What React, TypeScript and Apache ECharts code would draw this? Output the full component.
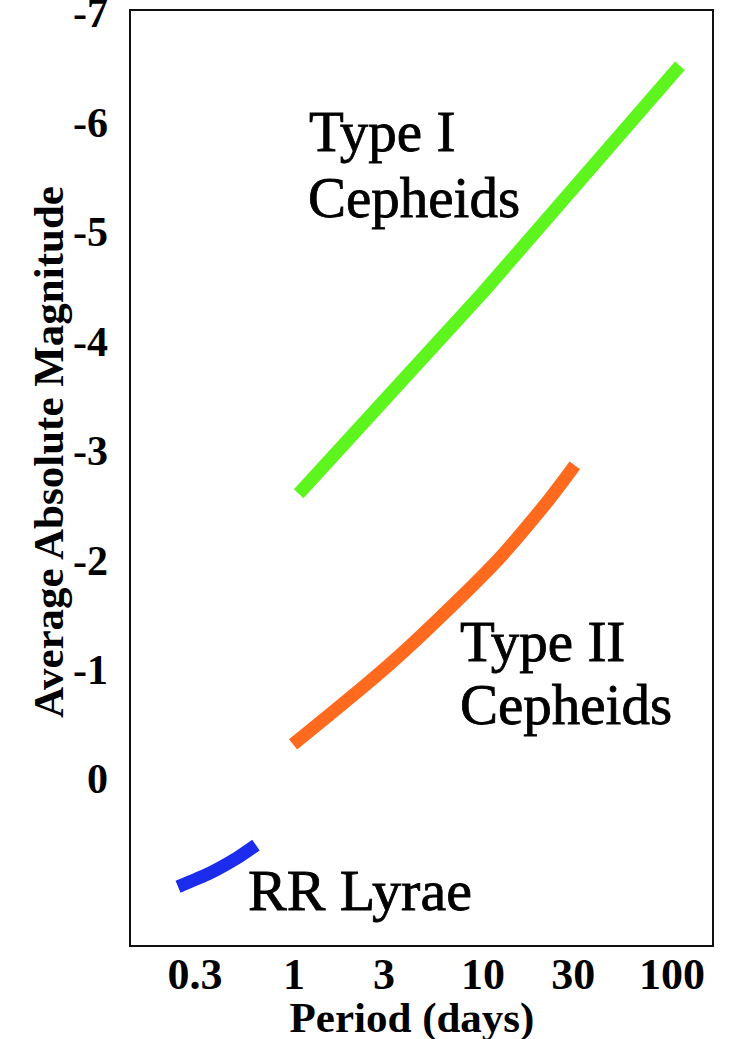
import React, { useEffect, useRef } from 'react';
import * as echarts from 'echarts';

// Axis tick labels
const periodTicks = [0.3, 1, 3, 10, 30, 100];
const magnitudeTicks = [-7, -6, -5, -4, -3, -2, -1, 0];

// Type I Cepheids (period in days, average absolute magnitude)
const typeIPeriods = [1.06, 10, 110];
const typeIMags = [-2.61, -4.45, -6.52];

// Type II Cepheids
const typeIIPeriods = [0.99, 2.7, 4.94, 11.6, 20.8, 30.6];
const typeIIMags = [-0.32, -0.94, -1.35, -1.98, -2.49, -2.87];

// RR Lyrae
const rrPeriods = [0.244, 0.36, 0.5, 0.63];
const rrMags = [0.98, 0.855, 0.718, 0.6];

const FONT = '"Liberation Serif", "Times New Roman", serif';

const zip = (xs: number[], ys: number[]) => xs.map((x, i) => [x, ys[i]]);

const labelStyle = (text: string, size: number) => ({
  text,
  fontFamily: FONT,
  fontSize: size,
  fill: '#000',
  stroke: '#000',
  lineWidth: 0.8,
  verticalAlign: 'middle',
});

export default function App() {
  const ref = useRef<HTMLDivElement>(null);
  useEffect(() => {
    if (!ref.current) return;
    const chart = echarts.init(ref.current, null, { renderer: 'svg' });
    chart.setOption({
      animation: false,
      backgroundColor: '#ffffff',
      grid: {
        left: 130,
        top: 10,
        right: 27,
        bottom: 93,
        show: true,
        containLabel: false,
        outerBoundsMode: 'none',
        borderColor: '#111',
        borderWidth: 2,
        backgroundColor: 'transparent',
      },
      xAxis: {
        type: 'log',
        logBase: 10,
        min: 0.1359,
        max: 164.6,
        axisLine: { show: false },
        axisTick: { show: false },
        splitLine: { show: false },
        axisLabel: {
          customValues: periodTicks,
          formatter: (v: number) => String(+Number(v).toPrecision(3)),
          fontFamily: FONT,
          fontWeight: 'bold',
          fontSize: 44,
          color: '#000',
          margin: 6,
        },
      },
      yAxis: {
        type: 'value',
        inverse: true,
        min: -7.03,
        max: 1.522,
        axisLine: { show: false },
        axisTick: { show: false },
        splitLine: { show: false },
        axisLabel: {
          customValues: magnitudeTicks,
          formatter: (v: number) => String(v),
          fontFamily: FONT,
          fontWeight: 'bold',
          fontSize: 42,
          color: '#000',
          margin: 22,
        },
      },
      series: [
        {
          type: 'line',
          name: 'Type I Cepheids',
          data: zip(typeIPeriods, typeIMags),
          showSymbol: false,
          silent: true,
          lineStyle: { color: '#5ef51f', width: 13 },
        },
        {
          type: 'line',
          name: 'Type II Cepheids',
          data: zip(typeIIPeriods, typeIIMags),
          showSymbol: false,
          silent: true,
          smooth: 0.3,
          lineStyle: { color: '#ff6a1e', width: 13 },
        },
        {
          type: 'line',
          name: 'RR Lyrae',
          data: zip(rrPeriods, rrMags),
          showSymbol: false,
          silent: true,
          smooth: 0.2,
          lineStyle: { color: '#1b2cec', width: 13 },
        },
      ],
      graphic: [
        { type: 'text', x: 309, y: 131, style: labelStyle('Type I', 57) },
        { type: 'text', x: 308, y: 197, style: labelStyle('Cepheids', 57) },
        { type: 'text', x: 460, y: 641, style: labelStyle('Type II', 57) },
        { type: 'text', x: 460, y: 704, style: labelStyle('Cepheids', 57) },
        { type: 'text', x: 248, y: 890, style: labelStyle('RR Lyrae', 58) },
        {
          type: 'text', x: 48, y: 452, rotation: Math.PI / 2,
          style: {
            text: 'Average Absolute Magnitude', fontFamily: FONT, fontWeight: 'bold', fontSize: 43,
            fill: '#000', align: 'center', verticalAlign: 'middle',
          },
        },
        {
          type: 'text', x: 412, y: 1017,
          style: {
            text: 'Period (days)', fontFamily: FONT, fontWeight: 'bold', fontSize: 43,
            fill: '#000', align: 'center', verticalAlign: 'middle',
          },
        },
      ],
    });
    return () => chart.dispose();
  }, []);
  return (
    <div
      ref={ref}
      style={{ position: 'absolute', left: 0, top: 0, width: 740, height: 1039, background: '#fff' }}
    />
  );
}
